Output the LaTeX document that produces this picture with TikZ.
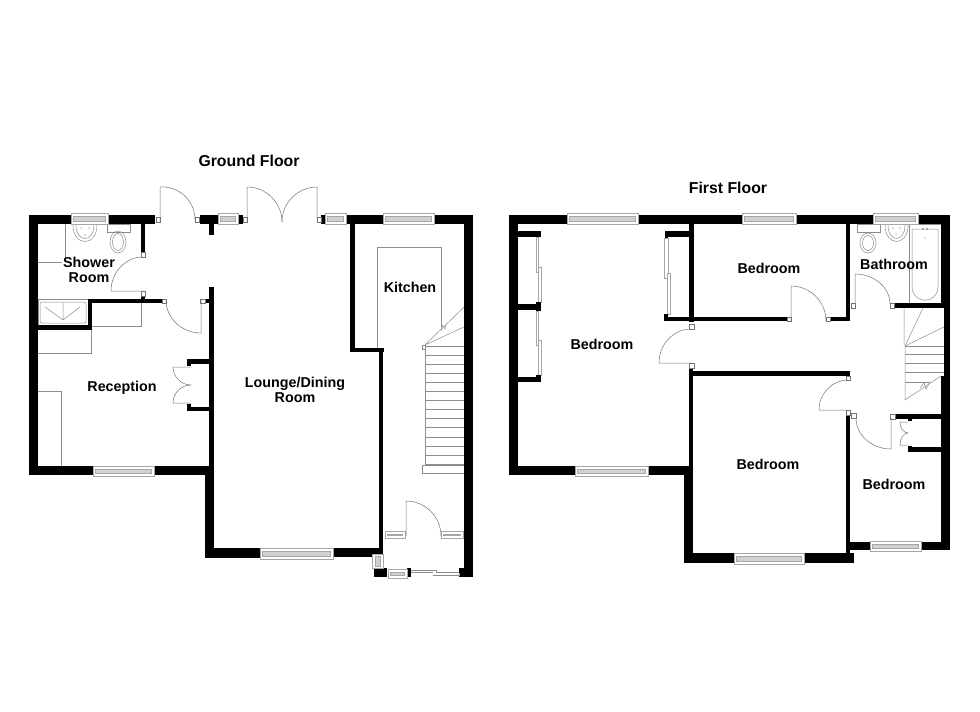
\documentclass[tikz,border=0pt]{standalone}
\usepackage{fontspec}
\setmainfont{Liberation Sans}
\usetikzlibrary{calc}

\begin{document}
\begin{tikzpicture}[
    x=1pt, y=-1pt,
    wall/.style={fill=black},
    fitting/.style={draw=black!45, line width=0.5pt},
    leaf/.style={draw=black!55, line width=0.5pt},
    pane/.style={draw=black!35, fill=white, line width=0.6pt},
    glass/.style={draw=black!35, fill=black!18, line width=0.4pt},
    jamb/.style={draw=black!55, fill=white, line width=0.4pt},
    room/.style={font=\fontsize{14.3}{15}\selectfont\bfseries, align=center, inner sep=0pt},
    floortitle/.style={font=\fontsize{15.8}{18}\selectfont\bfseries, inner sep=0pt}
]
\useasboundingbox (0,0) rectangle (980,712);

% Ground floor fittings
\draw[fitting] (65,224) -- (65,262) (38,262) -- (62,262);
\draw[fitting] (73,225) .. controls (73,247) and (97,247) .. (97,225);
\draw[fitting] (76,225) .. controls (76,243) and (94,243) .. (94,225);
\draw[fitting] (107,224) rectangle (130,232);
\draw[fitting] (118,242) ellipse [x radius=8pt, y radius=11pt];
\draw[fitting] (118,242) ellipse [x radius=5.5pt, y radius=8.5pt];
\fill[black!60] (81,228) circle (0.7pt) (89,228) circle (0.7pt) (85,235) circle (0.6pt);
\draw[fitting] (38,299) rectangle (88,325);
\draw[fitting, rounded corners=2pt] (40,302) rectangle (86,323);
\draw[fitting] (63,320) -- (45,307) (63,320) -- (80,307) (63,320) -- (63,303);
\draw[fitting] (92,326) -- (141,326) -- (141,303);
\draw[fitting] (91,330) -- (91,353) -- (38,353);
\draw[fitting] (38,391) -- (61,391) -- (61,466);
\draw[fitting] (377,348) -- (377,247) -- (441,247) -- (441,327);
\draw[fitting] (441,331) -- (442,325) -- (445,329) -- (446,325);

% Ground floor stairs
\draw[fitting] (425,345) -- (425,465) (422,465) rectangle (464,473);
\draw[fitting] (422,345) rectangle (425,349);
\draw[fitting] (425,345) -- (464,307) (425,345) -- (464,327);
\foreach \n in {0,...,13}
    \draw[fitting] (426,{346+\n*9.08}) -- (464,{346+\n*9.08});

% First floor fittings
\draw[fitting] (857,224) rectangle (880,232);
\draw[fitting] (868,243) ellipse [x radius=8pt, y radius=10pt];
\draw[fitting] (868,243) ellipse [x radius=5.5pt, y radius=7.5pt];
\draw[fitting] (885,225) .. controls (885,247) and (908,247) .. (908,225);
\draw[fitting] (888,225) .. controls (888,243) and (905,243) .. (905,225);
\fill[black!60] (893,228) circle (0.7pt) (900,228) circle (0.7pt) (896,234) circle (0.6pt);
\draw[fitting] (909,224) rectangle (941,303);
\draw[fitting] (912,229) -- (912,286) .. controls (912,305) and (938,305) .. (938,286) -- (938,229) -- cycle;
\fill[black!60] (923,229) circle (0.8pt) (927,229) circle (0.8pt) (925,238) circle (0.7pt);

% First floor stairs
\draw[fitting] (904,308) -- (904,345) (905,346) -- (905,400) -- (941,376);
\draw[fitting] (905,346) -- (923,308) (905,346) -- (944,327);
\foreach \sy/\sx in {346/944,354/944,363/944,372/944,382/930}
    \draw[fitting] (905,\sy) -- (\sx,\sy);
\draw[fitting] (920,388) -- (924,383) -- (926,389) -- (930,382);

% Sliding wardrobe panels
\foreach \xa/\ya/\xb/\yb in {536/237/538/272, 538/267/541/302, 536/311/538/345, 538/340/541/375,
                             664/238/668/278, 667/273/670/314}
    \draw[pane] (\xa,\ya) rectangle (\xb,\yb);

% Walls, ground floor
\foreach \xa/\ya/\xb/\yb in {29/215/71/224, 108/215/155/224, 200/215/218/224, 238/215/243/224,
                             321/215/325/224, 346/215/383/224, 434/215/473/224,
                             29/215/38/475, 29/466/93/475, 154/466/209/475,
                             205/466/214/558, 205/548/260/558, 333/548/383/557, 209/287/214/466,
                             209/224/214/235, 141/224/145/252, 141/296/145/303,
                             88/299/162/303, 205/299/209/303, 88/299/92/330, 38/325/92/330,
                             187/359/209/364, 187/359/191/366, 187/407/209/411, 187/404/191/411,
                             350/224/355/352, 350/348/384/352, 379/348/383/557,
                             464/215/473/577, 374/568/387/577, 407/568/411/577, 459/568/473/577}
    \fill[wall] (\xa,\ya) rectangle (\xb,\yb);

% Walls, first floor
\foreach \xa/\ya/\xb/\yb in {509/215/567/224, 638/215/742/224, 796/215/873/224, 918/215/950/224,
                             509/215/518/475, 509/466/575/475, 648/466/693/475,
                             684/466/693/563, 684/553/734/563, 804/553/854/563,
                             689/368/693/466, 689/371/850/376, 846/413/850/553,
                             850/542/870/550, 921/542/950/550,
                             941/215/950/303, 944/303/950/376, 941/376/950/550,
                             518/231/541/237, 518/304/541/310, 536/302/541/311,
                             518/377/541/382, 536/375/541/382,
                             665/231/692/237, 665/231/668/238, 689/224/694/322, 664/314/668/321,
                             664/317/787/321, 830/317/850/321, 846/224/850/321,
                             894/303/944/308, 895/414/941/419, 908/419/912/421,
                             908/447/941/452, 908/446/912/452}
    \fill[wall] (\xa,\ya) rectangle (\xb,\yb);

% Windows along a wall
\foreach \xa/\ya/\xb/\yb in {71/213/108/224, 218/213/238/224, 325/213/346/224, 383/213/434/224,
                             93/466/154/476, 260/548/333/559, 388/569/407/578,
                             385/531/405/538, 441/531/463/538,
                             567/213/638/224, 742/213/796/224, 873/213/918/224,
                             575/466/648/476, 734/553/804/564, 870/541/921/551} {
    \draw[pane] (\xa,\ya) rectangle (\xb,\yb);
    \draw[glass] ({\xa+2.5},{\ya+3}) rectangle ({\xb-2.5},{\yb-3});
}
% Side window by the porch
\draw[pane] (372,554) rectangle (383,568);
\draw[glass] (375,556) rectangle (380,566);

% Porch sliding door
\draw[fitting] (411,570) -- (436,570) -- (436,572.5) -- (459,572.5) (411,572.5) -- (433,572.5) (433,575) -- (459,575) -- (459,572.5);

% Door frames
\foreach \jx/\jy in {158/219.5, 197/219.5, 245/219.5, 319/219.5, 143/254.5, 143/293.5,
                     164/301, 202.5/301,
                     691.5/326.5, 691.5/365.5, 789/319, 828/319,
                     853/305.5, 892/305.5, 848/378, 848/412.5, 853.5/415.5, 892.5/416.5}
    \draw[jamb] ({\jx-2.2},{\jy-2.2}) rectangle ({\jx+2.2},{\jy+2.2});

% Door leaves: hinge, open end, shut end
\foreach \hinge/\tip/\shut in {{160,222}/{160,187}/{195,220}, {247,222}/{247,187}/{282,222},
                               {317,222}/{317,187}/{282,222}, {143,291}/{111,291}/{143,257},
                               {201,300}/{201,333}/{166,300}, {191,367}/{173,367}/{191,385},
                               {191,403}/{173,403}/{191,385}, {406,536}/{406,501}/{441,536},
                               {691,363}/{659,363}/{691,329}, {791,321}/{791,286}/{826,321},
                               {855,304}/{855,274}/{890,304}, {848,410}/{819,410}/{848,380},
                               {891,418}/{891,449}/{856,418}, {908,422}/{900,422}/{908,433},
                               {908,445}/{900,445}/{908,433}}
    \draw[leaf] (\hinge) -- (\tip) .. controls ($(\tip)+0.55*(\shut)-0.55*(\hinge)$) and ($(\shut)+0.55*(\tip)-0.55*(\hinge)$) .. (\shut);

% Titles
\node[floortitle] (groundtitle) at (249,161) {Ground Floor};
\node[floortitle] (firsttitle) at (728,188) {First Floor};

% Room names
\node[room] (shower) at (89,270) {Shower\\Room};
\node[room] (reception) at (122,388) {Reception};
\node[room] (lounge) at (295,390) {Lounge/Dining\\Room};
\node[room] (kitchen) at (410,287) {Kitchen};
\node[room] (bedbig) at (602,344) {Bedroom};
\node[room] (bedtop) at (769,268) {Bedroom};
\node[room] (bathroom) at (894,264) {Bathroom};
\node[room] (bedfront) at (768,464) {Bedroom};
\node[room] (bedsmall) at (894,484) {Bedroom};

\end{tikzpicture}
\end{document}
